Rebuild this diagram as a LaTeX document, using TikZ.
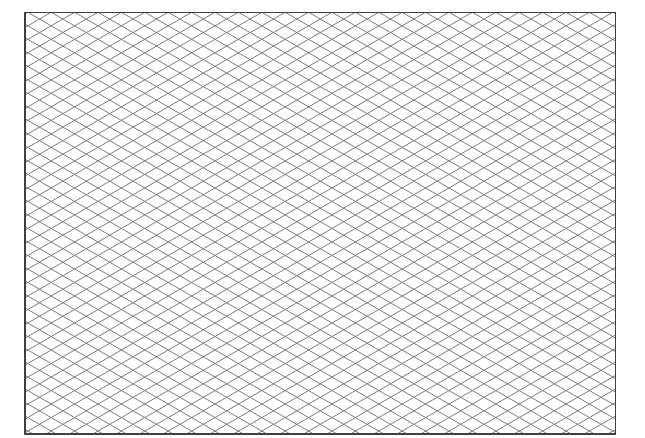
\documentclass[tikz,border=0pt]{standalone}
\begin{document}
\begin{tikzpicture}[x=1pt,y=-1pt,
   gridline/.style={draw=black!50, line width=0.75pt},
   sheet/.style={draw=black!75, line width=1.3pt}
  ]
  \useasboundingbox (0,0) rectangle (645,437);
  \coordinate (nw) at (25,12.3);
  \coordinate (se) at (615.7,434);
  % rhombic grid, both families through the same points of the top edge
  \begin{scope}
    \clip (nw) rectangle (se);
    \foreach \k in {-32,...,57}{
      \coordinate (top\k) at ({27.8+23.4*\k},12.3);
      \draw[gridline] (top\k) -- ++(740,427.2);
      \draw[gridline] (top\k) -- ++(-740,427.2);
    }
  \end{scope}
  \draw[sheet] (nw) rectangle (se);
\end{tikzpicture}
\end{document}
